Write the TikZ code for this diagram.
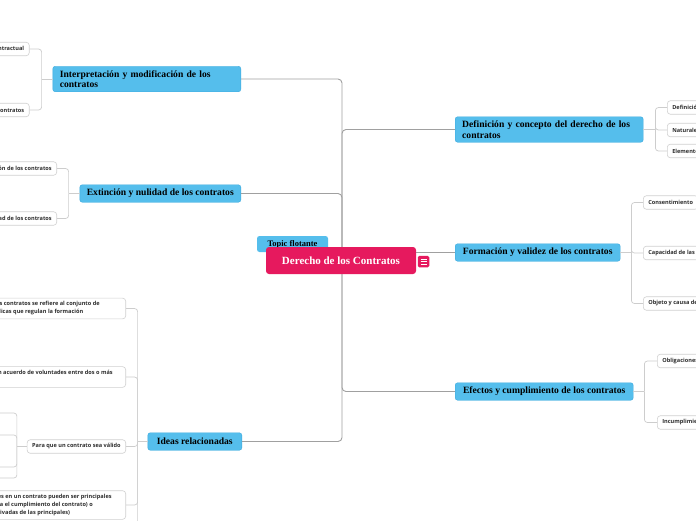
\documentclass[tikz,border=0pt]{standalone}
\usepackage{fontspec}
\setmainfont{Liberation Serif}
\newfontfamily\leaffont{Open Sans}
\usepackage{xcolor}
\definecolor{rootpink}{RGB}{230, 25, 94}
\definecolor{branchblue}{RGB}{85, 190, 236}
\definecolor{branchedge}{RGB}{60, 170, 222}
\definecolor{leafedge}{RGB}{208, 208, 208}
\definecolor{leaftext}{RGB}{45, 45, 45}
\definecolor{conngray}{RGB}{160, 160, 160}
\definecolor{subgray}{RGB}{205, 205, 205}

\tikzset{
  rootnode/.style={fill=rootpink, text=white, rounded corners=3pt, inner sep=0pt,
    minimum width=150pt, minimum height=27pt, font=\fontsize{11}{13}\selectfont\bfseries},
  menuicon/.style={fill=rootpink, rounded corners=1.5pt, minimum size=11.5pt, inner sep=0pt},
  branch/.style={fill=branchblue, draw=branchedge, line width=0.4pt, rounded corners=2.5pt,
    inner xsep=7pt, inner ysep=0pt, minimum height=17.5pt, font=\fontsize{9.6}{10.5}\selectfont\bfseries},
  twoline/.style={align=left, minimum height=25.5pt},
  floatnode/.style={fill=branchblue, rounded corners=2.5pt, inner xsep=6pt, inner ysep=0pt,
    minimum width=71pt, minimum height=16pt, font=\fontsize{8.5}{9}\selectfont\bfseries},
  leaf/.style={fill=white, draw=leafedge, line width=0.6pt, rounded corners=3pt, text=leaftext,
    inner xsep=5pt, inner ysep=3.5pt, minimum height=13.5pt, align=left,
    font=\leaffont\fontsize{5.6}{8}\selectfont\bfseries},
  conn/.style={draw=conngray, line width=0.9pt, rounded corners=4pt},
  subconn/.style={draw=subgray, line width=0.7pt, rounded corners=3pt},
}

\begin{document}
\begin{tikzpicture}[x=1pt, y=-1pt]
  \path[use as bounding box] (0,0) rectangle (696,520);
  \clip (0,0) rectangle (696,520);
  \fill[white] (0,0) rectangle (696,520);

  % main branches
  \node[branch, twoline, text width=174pt, anchor=west] (defin) at (455,129.5)
    {Definición y concepto del derecho de los\\contratos};
  \node[branch, minimum width=165pt, anchor=west] (formac) at (455,252.5)
    {Formación y validez de los contratos};
  \node[branch, minimum width=178pt, anchor=west] (efect) at (455,391.5)
    {Efectos y cumplimiento de los contratos};
  \node[branch, twoline, text width=174pt, anchor=east] (interp) at (241,79)
    {Interpretación y modificación de los\\contratos};
  \node[branch, minimum width=161pt, anchor=east] (extin) at (241,193.5)
    {Extinción y nulidad de los contratos};
  \node[branch, minimum width=94pt, anchor=east] (ideas) at (242,441.5)
    {Ideas relacionadas};

  % central trunk
  \coordinate (trunk) at (342,260.5);
  \draw[conn] (trunk) |- (interp.east);
  \draw[conn] (trunk) |- (extin.east);
  \draw[conn] (trunk) |- (ideas.east);
  \draw[conn] (trunk) |- (defin.west);
  \draw[conn] (trunk) |- (efect.west);

  % leaves on the right
  \node[leaf, anchor=west] (defa) at (667,107.5) {Definición};
  \node[leaf, anchor=west] (defb) at (667,130) {Naturaleza};
  \node[leaf, anchor=west] (defc) at (667,151) {Elementos};
  \node[leaf, anchor=west] (forma) at (643,202.5) {Consentimiento};
  \node[leaf, anchor=west] (formb) at (643,253) {Capacidad de las partes};
  \node[leaf, anchor=west] (formc) at (643,303.5) {Objeto y causa del contrato};
  \node[leaf, anchor=west] (efecta) at (657,361) {Obligaciones};
  \node[leaf, anchor=west] (efectb) at (657,422.5) {Incumplimiento};

  % leaves on the left
  \node[leaf, anchor=east] (interpa) at (29.5,49) {Interpretación contractual};
  \node[leaf, anchor=east] (interpb) at (29.5,110) {Modificación de los contratos};
  \node[leaf, anchor=east] (extina) at (57,168.5) {Extinción de los contratos};
  \node[leaf, anchor=east] (extinb) at (57,218.5) {Nulidad de los contratos};
  \node[leaf, anchor=east] (ideasa) at (126,308.5)
    {El derecho de los contratos se refiere al conjunto de\rule{21pt}{0pt}\\las normas jurídicas que regulan la formación};
  \node[leaf, anchor=east] (ideasb) at (126,377)
    {Un contrato es un acuerdo de voluntades entre dos o más\rule{8pt}{0pt}\\partes};
  \node[leaf, anchor=east] (ideasc) at (126,446.5) {Para que un contrato sea válido};
  \node[leaf, anchor=east] (ideasd) at (126,505)
    {Las obligaciones en un contrato pueden ser principales\rule{9pt}{0pt}\\(esenciales para el cumplimiento del contrato) o\\accesorias (derivadas de las principales)};
  \coordinate (ideasmore) at (126,570);
  \coordinate (validaa) at (0,413);
  \coordinate (validab) at (0,435);
  \coordinate (validac) at (0,467);
  \coordinate (validad) at (0,478);

  % connectors to the leaves
  \coordinate (definT) at ([xshift=12pt]defin.east);
  \draw[subconn] (defin.east) -- (definT);
  \foreach \n in {defa,defb,defc} \draw[subconn] (definT) |- (\n.west);
  \coordinate (formacT) at ([xshift=11pt]formac.east);
  \draw[subconn] (formac.east) -- (formacT);
  \foreach \n in {forma,formb,formc} \draw[subconn] (formacT) |- (\n.west);
  \coordinate (efectT) at ([xshift=11pt]efect.east);
  \draw[subconn] (efect.east) -- (efectT);
  \foreach \n in {efecta,efectb} \draw[subconn] (efectT) |- (\n.west);
  \coordinate (interpT) at ([xshift=-11pt]interp.west);
  \draw[subconn] (interp.west) -- (interpT);
  \foreach \n in {interpa,interpb} \draw[subconn] (interpT) |- (\n.east);
  \coordinate (extinT) at ([xshift=-11pt]extin.west);
  \draw[subconn] (extin.west) -- (extinT);
  \foreach \n in {extina,extinb} \draw[subconn] (extinT) |- (\n.east);
  \coordinate (ideasT) at ([xshift=-10pt]ideas.west);
  \draw[subconn] (ideas.west) -- (ideasT);
  \foreach \n in {ideasa,ideasb,ideasc,ideasd} \draw[subconn] (ideasT) |- (\n.east);
  \draw[subconn] (ideasT) |- (ideasmore);
  \coordinate (validT) at ([xshift=-10pt]ideasc.west);
  \draw[subconn] (ideasc.west) -- (validT);
  \foreach \n in {validaa,validab,validac,validad} \draw[subconn] (validT) |- (\n);

  % floating topic and root
  \node[floatnode] (floating) at (292.5,244) {Topic flotante};
  \node[rootnode] (root) at (341,260.5) {Derecho de los Contratos};
  \draw[conn] (formac.west) -- (formac.west -| root.east);
  \node[menuicon] (menu) at (423.5,261.5) {};
  \foreach \dy in {-2.6,0,2.6}
    \draw[white, line width=0.8pt] ([xshift=-3pt, yshift=\dy pt]menu.center) -- ++(6,0);
\end{tikzpicture}
\end{document}
